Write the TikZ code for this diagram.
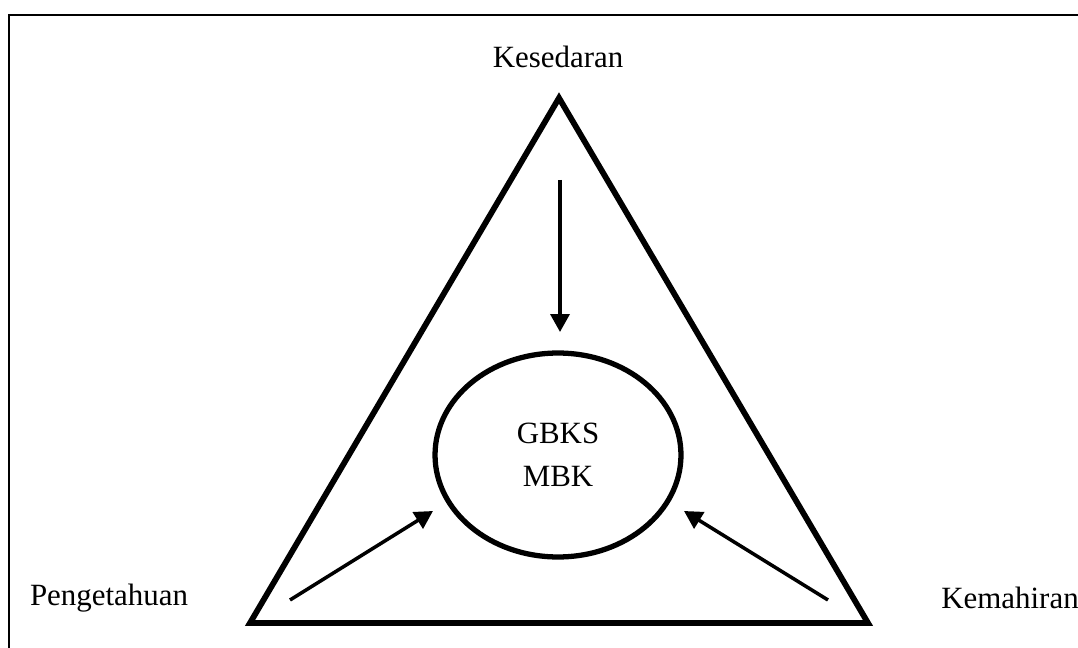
\documentclass[tikz,border=0pt]{standalone}
\usepackage{fontspec}
\setmainfont{Liberation Serif}
\usetikzlibrary{arrows.meta, shapes.geometric}

\begin{document}
\begin{tikzpicture}[
  x=0.02cm, y=-0.02cm,
  label/.style={font=\fontsize{17.6}{21}\selectfont, inner sep=0pt},
  side/.style={line width=3.3pt, line join=miter},
  core/.style={draw, ellipse, line width=3pt, minimum width=4.92cm,
    minimum height=4.08cm, align=center, font=\fontsize{17.6}{21}\selectfont},
  arrow/.style={-{Triangle[length=3.6mm, width=3.8mm]}, line width=2pt}
]
  \useasboundingbox (0,0) rectangle (1078,648);
  % frame
  \draw[line width=0.9pt] (9,648) -- (9,15) -- (1078,15);
  % triangle corners
  \coordinate (top) at (559,98);
  \coordinate (left) at (250,623);
  \coordinate (right) at (868,623);
  \draw[side] (top) -- (right) -- (left) -- cycle;
  % labels
  \node[label] (kes) at (558,57) {Kesedaran};
  \node[label] (pen) at (109,598) {Pengetahuan};
  \node[label] (kem) at (1010,598) {Kemahiran};
  % centre
  \node[core] (gbks) at (558,455) {GBKS\\[3.5pt]MBK};
  % arrows into the centre
  \coordinate (a1) at (560,180);
  \coordinate (b1) at (560,332);
  \coordinate (a2) at (290,600);
  \coordinate (b2) at (433,511);
  \coordinate (a3) at (828,600);
  \coordinate (b3) at (684,511);
  \draw[arrow] (a1) -- (b1);
  \draw[arrow] (a2) -- (b2);
  \draw[arrow] (a3) -- (b3);
\end{tikzpicture}
\end{document}
